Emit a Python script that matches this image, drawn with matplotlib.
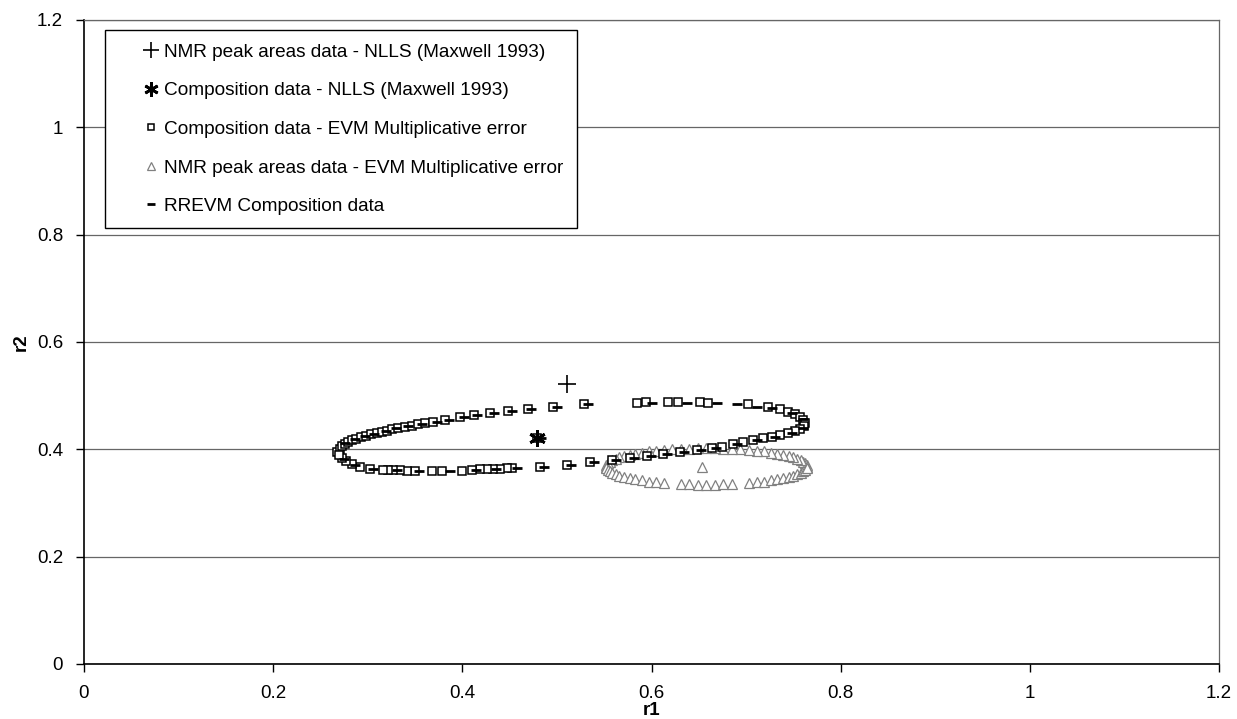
import matplotlib
matplotlib.use("Agg")
import matplotlib.pyplot as plt

plt.rcParams["font.family"] = ["Liberation Sans", "DejaVu Sans"]

# NLLS estimates (Maxwell 1993)
nmr_nlls = (0.511, 0.522)
comp_nlls = (0.479, 0.421)

# EVM joint confidence region, composition data (multiplicative error)
comp_evm_r1 = [0.479,
               0.268, 0.271, 0.273, 0.276, 0.279, 0.283, 0.288, 0.293, 0.298, 0.303,
               0.310, 0.315, 0.320, 0.326, 0.332, 0.339, 0.347, 0.353, 0.361, 0.369,
               0.382, 0.398, 0.412, 0.429, 0.448, 0.469, 0.496, 0.529, 0.585, 0.594,
               0.617, 0.628, 0.651, 0.660, 0.702, 0.723, 0.736, 0.744, 0.752, 0.757,
               0.760, 0.762, 0.761, 0.757,
               0.752, 0.744, 0.736, 0.727, 0.718, 0.707, 0.697, 0.686, 0.674, 0.664,
               0.648, 0.630, 0.612, 0.595, 0.577, 0.558, 0.535, 0.511, 0.482, 0.453,
               0.447, 0.440, 0.432, 0.426, 0.419, 0.410, 0.400, 0.378, 0.368, 0.350,
               0.341, 0.334, 0.327, 0.321, 0.316, 0.302, 0.292, 0.283, 0.277, 0.273,
               0.270]
comp_evm_r2 = [0.421,
               0.395, 0.401, 0.406, 0.410, 0.414, 0.417, 0.419, 0.423, 0.425, 0.429,
               0.430, 0.432, 0.434, 0.438, 0.440, 0.442, 0.444, 0.447, 0.449, 0.451,
               0.455, 0.460, 0.464, 0.468, 0.471, 0.475, 0.479, 0.484, 0.486, 0.488,
               0.488, 0.488, 0.488, 0.486, 0.484, 0.479, 0.475, 0.470, 0.466, 0.460,
               0.455, 0.449, 0.443, 0.438,
               0.434, 0.430, 0.427, 0.423, 0.421, 0.417, 0.414, 0.410, 0.404, 0.402,
               0.399, 0.395, 0.391, 0.388, 0.384, 0.380, 0.376, 0.371, 0.367, 0.365,
               0.365, 0.363, 0.363, 0.363, 0.363, 0.361, 0.360, 0.360, 0.360, 0.360,
               0.360, 0.361, 0.361, 0.361, 0.361, 0.363, 0.367, 0.373, 0.378, 0.384,
               0.389]

# EVM joint confidence region, NMR peak areas data
nmr_evm_r1 = [0.653,
              0.764, 0.764, 0.762, 0.760, 0.758, 0.754, 0.750, 0.745, 0.739, 0.733,
              0.726, 0.719, 0.711, 0.703, 0.694, 0.685, 0.676, 0.667, 0.658, 0.649,
              0.640, 0.631, 0.622, 0.613, 0.605, 0.597, 0.590, 0.583, 0.577, 0.571,
              0.566, 0.562, 0.558, 0.556, 0.554, 0.552, 0.552, 0.552, 0.554, 0.556,
              0.558, 0.562, 0.566, 0.571, 0.577, 0.583, 0.590, 0.597, 0.605, 0.613,
              0.631, 0.640, 0.649, 0.658, 0.667, 0.676, 0.685, 0.703,
              0.711, 0.719, 0.726, 0.733, 0.739, 0.745, 0.750, 0.754, 0.758, 0.760,
              0.762, 0.764]
nmr_evm_r2 = [0.367,
              0.368, 0.371, 0.374, 0.377, 0.380, 0.382, 0.385, 0.388, 0.390, 0.392,
              0.394, 0.396, 0.397, 0.399, 0.400, 0.401, 0.401, 0.402, 0.402, 0.402,
              0.401, 0.401, 0.400, 0.399, 0.397, 0.396, 0.394, 0.392, 0.390, 0.388,
              0.385, 0.382, 0.380, 0.377, 0.374, 0.371, 0.368, 0.365, 0.362, 0.359,
              0.356, 0.354, 0.351, 0.348, 0.346, 0.344, 0.342, 0.340, 0.339, 0.337,
              0.335, 0.335, 0.334, 0.334, 0.334, 0.335, 0.335, 0.337,
              0.339, 0.340, 0.342, 0.344, 0.346, 0.348, 0.351, 0.354, 0.356, 0.359,
              0.362, 0.365]

# RREVM region, composition data
rrevm_r1 = [0.483,
            0.276, 0.287, 0.297, 0.307, 0.319, 0.330, 0.343, 0.357, 0.373, 0.386,
            0.402, 0.416, 0.433, 0.452, 0.473, 0.500, 0.533, 0.601, 0.637, 0.669,
            0.690, 0.711, 0.727, 0.748, 0.760,
            0.760, 0.748, 0.731, 0.711, 0.690, 0.668, 0.652, 0.634, 0.616, 0.599,
            0.581, 0.562, 0.539, 0.515, 0.486, 0.458, 0.436, 0.414, 0.387, 0.354,
            0.331, 0.306, 0.287, 0.275]
rrevm_r2 = [0.421,
            0.412, 0.419, 0.425, 0.429, 0.434, 0.439, 0.443, 0.447, 0.451, 0.455,
            0.460, 0.464, 0.468, 0.471, 0.475, 0.479, 0.484, 0.486, 0.486, 0.486,
            0.484, 0.479, 0.477, 0.468, 0.457,
            0.440, 0.430, 0.423, 0.417, 0.410, 0.402, 0.399, 0.395, 0.391, 0.388,
            0.384, 0.380, 0.376, 0.371, 0.367, 0.365, 0.363, 0.361, 0.360, 0.360,
            0.361, 0.363, 0.370, 0.382]

labels = ["NMR peak areas data - NLLS (Maxwell 1993)",
          "Composition data - NLLS (Maxwell 1993)",
          "Composition data - EVM Multiplicative error",
          "NMR peak areas data - EVM Multiplicative error",
          "RREVM Composition data"]
ticks = [0, 0.2, 0.4, 0.6, 0.8, 1, 1.2]
tick_labels = ["0", "0.2", "0.4", "0.6", "0.8", "1", "1.2"]

fig = plt.figure(figsize=(12.37, 7.19), dpi=100)
ax = fig.add_axes([0.0679, 0.0765, 0.9176, 0.8957])

h_tri, = ax.plot(nmr_evm_r1, nmr_evm_r2, ls="none", marker="^", ms=6.5, mfc="white",
                 mec="#808080", mew=0.9, zorder=3)
h_sq, = ax.plot(comp_evm_r1, comp_evm_r2, ls="none", marker="s", ms=5.5, mfc="white",
                mec="black", mew=1.1, zorder=4)
h_dash, = ax.plot(rrevm_r1, rrevm_r2, ls="none", marker="_", ms=7, mec="black",
                  mew=2, zorder=5)
h_plus, = ax.plot(*nmr_nlls, ls="none", marker="+", ms=13, mec="black", mew=1.2,
                  zorder=6)
h_ast, = ax.plot(*comp_nlls, ls="none", marker=(6, 2, 0), ms=12, mec="black", mew=2,
                 zorder=6)

ax.set_xlim(0, 1.2)
ax.set_ylim(0, 1.2)
ax.set_xticks(ticks)
ax.set_yticks(ticks)
ax.set_xticklabels(tick_labels)
ax.set_yticklabels(tick_labels)
ax.tick_params(axis="both", labelsize=13.5, direction="out", length=6, width=1)
ax.tick_params(axis="x", pad=9)
ax.tick_params(axis="y", pad=9)

ax.yaxis.grid(True, color="#666666", lw=0.9)
ax.set_axisbelow(True)
for side in ("left", "bottom"):
    ax.spines[side].set_linewidth(1.2)
for side in ("top", "right"):
    ax.spines[side].set_color("#666666")
    ax.spines[side].set_linewidth(0.9)

ax.set_xlabel("r1", fontsize=13.5, fontweight="bold", labelpad=0)
ax.set_ylabel("r2", fontsize=13.5, fontweight="bold", labelpad=5)

leg = ax.legend([h_plus, h_ast, h_sq, h_tri, h_dash], labels,
                loc="upper left", bbox_to_anchor=(0.0185, 0.9845), borderaxespad=0,
                fontsize=13.7, frameon=True, fancybox=False, framealpha=1,
                edgecolor="black", labelspacing=1.12, handlelength=3.4,
                handletextpad=-1.0, borderpad=0.7)
leg.get_frame().set_linewidth(1.0)
for h in leg.legend_handles:
    h.set_markersize(h.get_markersize() * 0.85)

fig.savefig("out.png", dpi=100)
